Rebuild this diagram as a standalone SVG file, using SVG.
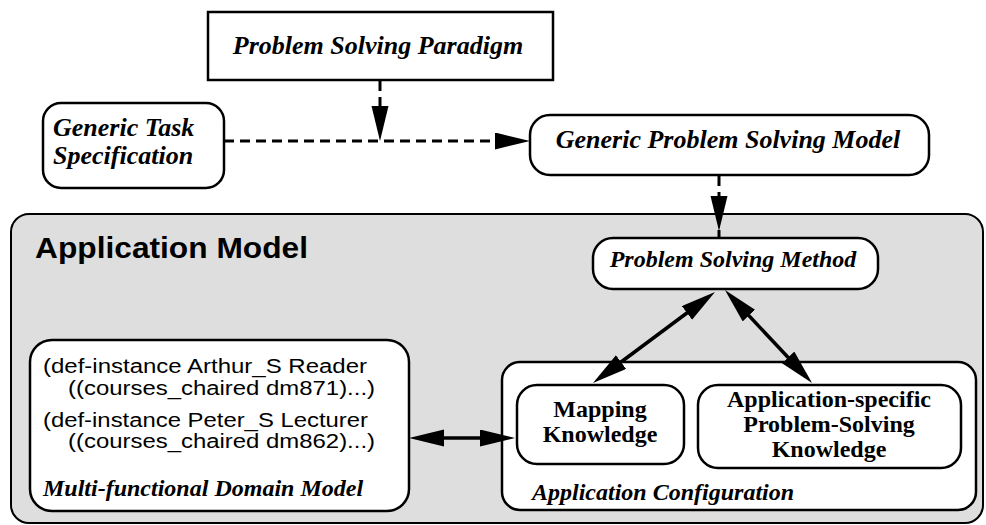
<svg xmlns="http://www.w3.org/2000/svg" width="986" height="525" viewBox="0 0 986 525">
<style>
.box{fill:#fff;stroke:#000;stroke-width:2.5}
.outer{fill:#dedede;stroke:#000;stroke-width:2}
.ti{font-family:"Liberation Serif","Times New Roman",serif;font-style:italic;font-weight:bold;fill:#000}
.tb{font-family:"Liberation Serif","Times New Roman",serif;font-weight:bold;font-size:24px;fill:#000;text-anchor:middle}
.sans{font-family:"Liberation Sans",Arial,sans-serif;fill:#000}
.dash{fill:none;stroke:#000;stroke-width:3;stroke-dasharray:10 6}
.solid{fill:none;stroke:#000;stroke-width:3.5}
</style>
<defs>
<marker id="ah" markerUnits="userSpaceOnUse" markerWidth="36" markerHeight="18" refX="20" refY="8.5" orient="auto-start-reverse" viewBox="0 0 36 18">
<path d="M0,0 L35,8.5 L0,17 z" fill="#000" stroke="none"/>
</marker>
</defs>

<g id="application-model">
<rect class="outer" x="11" y="214" width="972" height="309" rx="18"/>
<text class="sans" x="35" y="258" font-size="29" font-weight="bold" textLength="273" lengthAdjust="spacingAndGlyphs">Application Model</text>
</g>

<g id="problem-solving-paradigm">
<rect class="box" x="208" y="12" width="345" height="68"/>
<text class="ti" x="378" y="54" font-size="26" text-anchor="middle">Problem Solving Paradigm</text>
</g>

<g id="generic-task-specification">
<rect class="box" x="43" y="103" width="181" height="85" rx="18"/>
<text class="ti" x="53" y="136" font-size="26">Generic Task</text>
<text class="ti" x="53" y="164" font-size="26">Specification</text>
</g>

<g id="generic-problem-solving-model">
<rect class="box" x="530" y="115" width="399" height="60" rx="20"/>
<text class="ti" x="728" y="148" font-size="26" text-anchor="middle">Generic Problem Solving Model</text>
</g>

<g id="problem-solving-method">
<rect class="box" x="593" y="238" width="285" height="51" rx="20"/>
<text class="ti" x="733" y="267" font-size="24" text-anchor="middle">Problem Solving Method</text>
</g>

<g id="domain-model">
<rect class="box" x="30" y="340" width="379" height="171" rx="22"/>
<text class="sans" x="43" y="373" font-size="20" textLength="324" lengthAdjust="spacingAndGlyphs">(def-instance Arthur_S Reader</text>
<text class="sans" x="68" y="395" font-size="20" textLength="307" lengthAdjust="spacingAndGlyphs">((courses_chaired dm871)...)</text>
<text class="sans" x="43" y="427" font-size="20" textLength="325" lengthAdjust="spacingAndGlyphs">(def-instance Peter_S Lecturer</text>
<text class="sans" x="68" y="448" font-size="20" textLength="307" lengthAdjust="spacingAndGlyphs">((courses_chaired dm862)...)</text>
<text class="ti" x="43" y="496" font-size="24">Multi-functional Domain Model</text>
</g>

<g id="application-configuration">
<rect class="box" x="502" y="362" width="474" height="148" rx="18"/>
<text class="ti" x="532" y="500" font-size="24">Application Configuration</text>
</g>

<g id="mapping-knowledge">
<rect class="box" x="517" y="385" width="167" height="79" rx="20"/>
<text class="tb" x="600" y="417">Mapping</text>
<text class="tb" x="600" y="442">Knowledge</text>
</g>

<g id="application-specific-psk">
<rect class="box" x="698" y="385" width="263" height="83" rx="20"/>
<text class="tb" x="829" y="407">Application-specific</text>
<text class="tb" x="829" y="432">Problem-Solving</text>
<text class="tb" x="829" y="457">Knowledge</text>
</g>

<g id="connectors">
<path class="dash" d="M224,141 L515,141" marker-end="url(#ah)"/>
<path class="dash" d="M380,81 L380,126" marker-end="url(#ah)"/>
<path class="dash" d="M719,176 L719,216" marker-end="url(#ah)"/>
<path d="M719,230 L719,238" stroke="#000" stroke-width="3" fill="none"/>
<path class="solid" d="M424,438 L500,438" marker-start="url(#ah)" marker-end="url(#ah)"/>
<path class="solid" d="M703,301 L605,374" marker-start="url(#ah)" marker-end="url(#ah)"/>
<path class="solid" d="M735.2,301 L801.8,372" marker-start="url(#ah)" marker-end="url(#ah)"/>
</g>
</svg>
